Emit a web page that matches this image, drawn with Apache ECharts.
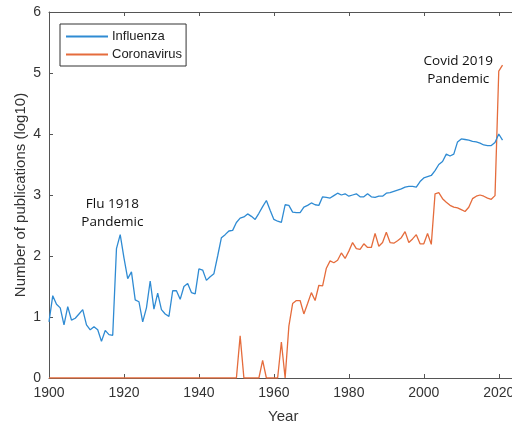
<!DOCTYPE html>
<html>
<head>
<meta http-equiv="Content-Type" content="text/html; charset=utf-8" />
<title>Publications - influenza vs coronavirus</title>
<style>
  body, html { padding: 0; margin: 0; overflow: hidden; background: #fff; }
</style>
</head>
<body>
<div id="container" style="width: 560px; height: 429px"></div>
<script src="https://cdn.jsdelivr.net/npm/echarts@6/dist/echarts.min.js"></script>
<script>
  // yearly values, 1900 .. 2021 (log10 of publication counts)
  var firstYear = 1900;
  var influenza = [
    0.92, 1.35, 1.21, 1.15, 0.87, 1.17, 0.95, 0.98, 1.05, 1.12,
    0.87, 0.79, 0.84, 0.79, 0.60, 0.78, 0.71, 0.70, 2.12, 2.35,
    1.97, 1.63, 1.74, 1.28, 1.25, 0.92, 1.15, 1.59, 1.13, 1.39,
    1.12, 1.05, 1.01, 1.43, 1.43, 1.29, 1.50, 1.55, 1.40, 1.38,
    1.79, 1.77, 1.60, 1.66, 1.71, 2.00, 2.30, 2.35, 2.41, 2.42,
    2.55, 2.62, 2.64, 2.69, 2.65, 2.60, 2.70, 2.81, 2.91, 2.75,
    2.60, 2.57, 2.55, 2.84, 2.83, 2.72, 2.71, 2.71, 2.80, 2.83,
    2.87, 2.84, 2.83, 2.97, 2.96, 2.95, 2.99, 3.03, 3.00, 3.02,
    2.98, 3.00, 3.02, 2.97, 2.97, 3.02, 2.97, 2.96, 2.98, 2.98,
    3.03, 3.04, 3.06, 3.08, 3.10, 3.13, 3.14, 3.14, 3.13, 3.22,
    3.28, 3.30, 3.32, 3.40, 3.50, 3.55, 3.67, 3.64, 3.67, 3.87,
    3.92, 3.91, 3.90, 3.88, 3.87, 3.85, 3.82, 3.81, 3.81, 3.86,
    4.00, 3.90
  ];
  var coronavirus = [
    0, 0, 0, 0, 0, 0, 0, 0, 0, 0,
    0, 0, 0, 0, 0, 0, 0, 0, 0, 0,
    0, 0, 0, 0, 0, 0, 0, 0, 0, 0,
    0, 0, 0, 0, 0, 0, 0, 0, 0, 0,
    0, 0, 0, 0, 0, 0, 0, 0, 0, 0,
    0, 0.69, 0, 0, 0, 0, 0, 0.29, 0, 0,
    0, 0, 0.59, 0, 0.85, 1.22, 1.27, 1.27, 1.05, 1.22,
    1.40, 1.27, 1.52, 1.51, 1.80, 1.92, 1.89, 1.93, 2.05, 1.96,
    2.08, 2.22, 2.12, 2.11, 2.20, 2.14, 2.14, 2.37, 2.16, 2.22,
    2.39, 2.22, 2.21, 2.25, 2.30, 2.40, 2.22, 2.28, 2.35, 2.20,
    2.20, 2.37, 2.19, 3.02, 3.04, 2.94, 2.88, 2.83, 2.80, 2.79,
    2.76, 2.73, 2.80, 2.94, 2.98, 3.00, 2.98, 2.95, 2.93, 2.99,
    5.03, 5.13
  ];
  var xTicks = [1900, 1920, 1940, 1960, 1980, 2000, 2020];
  var notes = [
    { text: 'Flu 1918\nPandemic', at: [1916.9, 2.71] },
    { text: 'Covid 2019\nPandemic', at: [2009.2, 5.05] }
  ];

  var axisColor = '#555';
  var labelColor = '#333';
  var font = '"Liberation Sans", Arial, sans-serif';

  function pairs(values) {
    var out = [];
    for (var i = 0; i < values.length; i++) out.push([firstYear + i, values[i]]);
    return out;
  }

  var chart = echarts.init(document.getElementById('container'));

  var xCommon = {
    type: 'value',
    min: 1900,
    max: 2025,
    interval: 20,
    splitLine: { show: false },
    axisLine: { lineStyle: { color: axisColor, width: 1 } },
    axisTick: { inside: true, length: 4, lineStyle: { color: axisColor } }
  };

  chart.setOption({
    backgroundColor: '#fff',
    animation: false,
    textStyle: { fontFamily: font },
    grid: { left: 49, top: 12, right: 42.5, bottom: 48.7 },
    legend: {
      orient: 'vertical',
      left: 60,
      top: 24,
      padding: [6, 4, 5, 5],
      itemGap: 5,
      itemWidth: 42,
      itemHeight: 14,
      itemStyle: { opacity: 0 },
      backgroundColor: '#fff',
      borderColor: '#333',
      borderWidth: 1,
      borderRadius: 0,
      textStyle: { color: '#222', fontSize: 13, fontFamily: font, padding: [0, 0, 0, -1] },
      data: ['Influenza', 'Coronavirus']
    },
    xAxis: [
      Object.assign({}, xCommon, {
        position: 'bottom',
        name: 'Year',
        nameLocation: 'middle',
        nameGap: 31,
        nameMoveOverlap: false,
        nameTextStyle: { color: labelColor, fontSize: 15, fontFamily: font },
        axisLabel: {
          color: labelColor,
          fontSize: 14,
          margin: 8,
          showMaxLabel: false,
          formatter: function (v) { return xTicks.indexOf(v) >= 0 ? String(v) : ''; }
        }
      }),
      Object.assign({}, xCommon, {
        position: 'top',
        axisLabel: { show: false }
      })
    ],
    yAxis: {
      type: 'value',
      min: 0,
      max: 6,
      interval: 1,
      name: 'Number of publications (log10)',
      nameLocation: 'middle',
      nameGap: 21,
      nameMoveOverlap: false,
      nameTextStyle: { color: labelColor, fontSize: 15, fontFamily: font },
      splitLine: { show: false },
      axisLine: { show: true, lineStyle: { color: axisColor, width: 1 } },
      axisTick: { show: true, inside: true, length: 4, lineStyle: { color: axisColor } },
      axisLabel: { color: labelColor, fontSize: 14, margin: 8 }
    },
    series: [
      {
        name: 'Influenza',
        type: 'line',
        data: pairs(influenza),
        symbol: 'none',
        color: '#2f8bd3',
        lineStyle: { width: 1.3, color: '#2f8bd3' },
        z: 3,
        markPoint: {
          symbol: 'circle',
          symbolSize: 0,
          label: {
            show: true,
            position: 'inside',
            color: '#111',
            fontSize: 13.5,
            lineHeight: 18,
            fontFamily: '"Open Sans", "Noto Sans", sans-serif',
            formatter: function (p) { return p.name; }
          },
          data: notes.map(function (n) { return { name: n.text, coord: n.at }; })
        }
      },
      {
        name: 'Coronavirus',
        type: 'line',
        data: pairs(coronavirus),
        symbol: 'none',
        color: '#e56c3c',
        lineStyle: { width: 1.3, color: '#e56c3c' },
        z: 2
      }
    ]
  });
</script>
</body>
</html>
